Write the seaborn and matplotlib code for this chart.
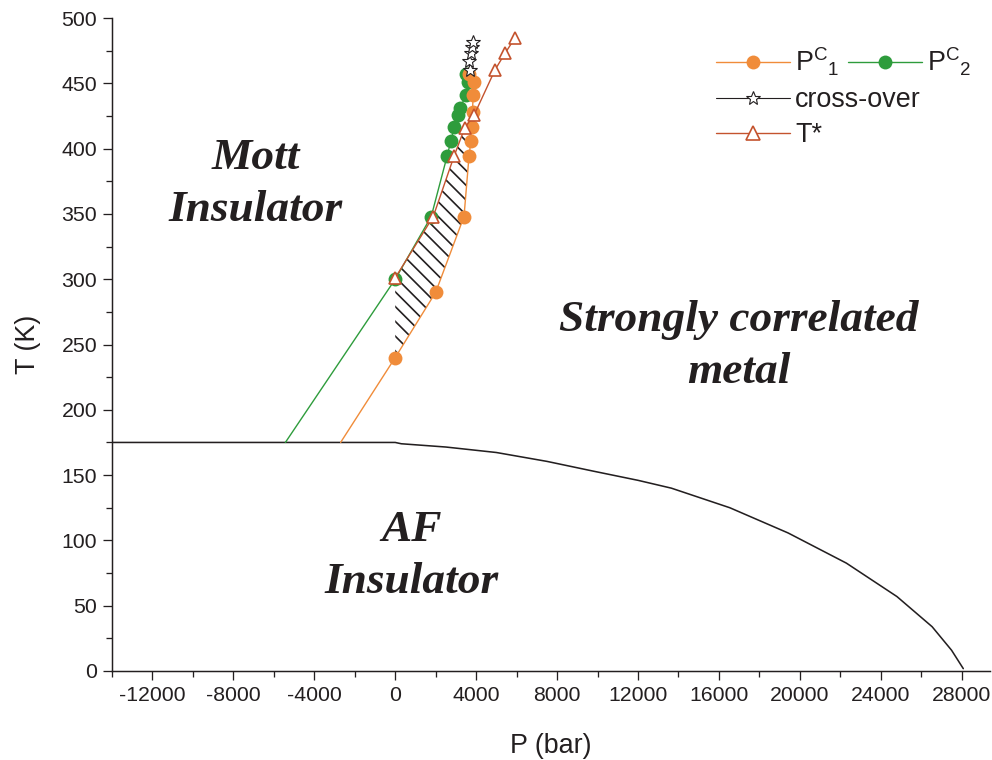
import numpy as np
import seaborn as sns
import matplotlib.pyplot as plt
from matplotlib.lines import Line2D

# ---- data (P in bar, T in K) ----
# first point of each P_c line is where it runs into the AF boundary (no marker)
pc1_p = [-2700, 0, 2000, 3400, 3650, 3740, 3790, 3820, 3850, 3900, 3650]
pc1_t = [175, 240, 290, 348, 394.6, 405.8, 416.3, 428, 441, 451, 457.5]

pc2_p = [-5430, 0, 1780, 2570, 2750, 2910, 3110, 3210, 3490, 3600, 3490]
pc2_t = [175, 300, 348, 394.6, 405.8, 416.3, 425.7, 430.9, 441, 451, 457.5]

cross_p = [3690, 3650, 3740, 3790, 3850]
cross_t = [460, 466.8, 473, 478, 482]

tstar_p = [0, 1880, 2910, 3440, 3900, 4940, 5430, 5930]
tstar_t = [301, 348, 394.3, 416, 425.7, 460.5, 473, 485]

af_p = [-14000, 0, 300, 2500, 5000, 7500, 9800, 12000, 13650, 16540, 19420,
        22300, 24800, 26540, 27500, 28080]
af_t = [175, 175, 174, 171.5, 167.3, 160.5, 153, 146, 140, 125, 105.7,
        82.6, 57, 33.9, 15.9, 1.8]

x_ticks = [-12000, -8000, -4000, 0, 4000, 8000, 12000, 16000, 20000, 24000, 28000]
y_ticks = [0, 50, 100, 150, 200, 250, 300, 350, 400, 450, 500]

ORANGE = '#f08c3a'
GREEN = '#2e9c3c'
BROWN = '#c4532e'
INK = '#231f20'

sns.set_theme(style='ticks')
plt.rcParams['font.family'] = ['Liberation Sans', 'DejaVu Sans']
plt.rcParams['hatch.linewidth'] = 0.9
plt.rcParams['mathtext.fontset'] = 'custom'
plt.rcParams['mathtext.rm'] = 'Liberation Sans'

DPI = 400 / 3
fig = plt.figure(figsize=(992 / DPI, 760 / DPI), dpi=DPI)
ax = fig.add_axes([112 / 992, 1 - 671 / 760, (990 - 112) / 992, (671 - 18) / 760])

# hatched coexistence region between T* / P=0 (left) and Pc1 (right)
t_grid = np.linspace(240, 425, 400)
left = np.where(t_grid <= 300, 0, np.interp(t_grid, tstar_t, tstar_p))
right = np.interp(t_grid, pc1_t[1:], pc1_p[1:])
ax.fill_betweenx(t_grid, left, right, where=right >= left, facecolor='none',
                 edgecolor=INK, hatch='\\\\\\', linewidth=0, zorder=1)

# AF boundary
sns.lineplot(x=af_p, y=af_t, sort=False, estimator=None, color=INK, lw=0.85, ax=ax, zorder=2)

# Pc2, Pc1, T*, cross-over
sns.lineplot(x=pc2_p, y=pc2_t, sort=False, estimator=None, color=GREEN, lw=0.75,
             marker='o', markersize=7.5, markeredgewidth=0, markevery=list(range(1, len(pc2_p))),
             ax=ax, zorder=3)
sns.lineplot(x=pc1_p, y=pc1_t, sort=False, estimator=None, color=ORANGE, lw=0.75,
             marker='o', markersize=7.5, markeredgewidth=0, markevery=list(range(1, len(pc1_p))),
             ax=ax, zorder=4)
sns.lineplot(x=tstar_p, y=tstar_t, sort=False, estimator=None, color=BROWN, lw=0.75,
             marker='^', markersize=7, markerfacecolor='white', markeredgecolor=BROWN,
             markeredgewidth=0.9, ax=ax, zorder=5)
sns.lineplot(x=cross_p, y=cross_t, sort=False, estimator=None, color=INK, lw=0.6,
             marker='*', markersize=8, markerfacecolor='white', markeredgecolor=INK,
             markeredgewidth=0.6, ax=ax, zorder=6)

# axes styling
ax.set_xlim(-14000, 29400)
ax.set_ylim(0, 500)
ax.set_xticks(x_ticks)
ax.set_yticks(y_ticks)
ax.set_xticks(np.arange(-14000, 29401, 2000), minor=True)
ax.set_yticks(np.arange(0, 501, 25), minor=True)
ax.set_xticklabels([str(v) for v in x_ticks])
ax.tick_params(which='major', direction='out', length=5, width=0.7, color=INK,
               labelsize=11.5, labelcolor=INK, pad=3)
ax.tick_params(which='minor', direction='out', length=3, width=0.7, color=INK)
for side in ['top', 'right']:
    ax.spines[side].set_visible(False)
for side in ['left', 'bottom']:
    ax.spines[side].set_color(INK)
    ax.spines[side].set_linewidth(0.8)
ax.set_xlabel('P (bar)', fontsize=14.5, color=INK, labelpad=15)
ax.set_ylabel('T (K)', fontsize=14.5, color=INK, labelpad=11)

# region labels
region_font = dict(family='Liberation Serif', weight='bold', style='italic', fontsize=24.5,
                   color=INK, ha='center', va='center', multialignment='center', linespacing=1.38)
ax.text(-6900, 373, 'Mott\nInsulator', **region_font)
ax.text(17000, 249, 'Strongly correlated\nmetal', **region_font)
ax.text(800, 88, 'AF\nInsulator', **region_font)

# legend: Pc1 / cross-over / T* in one column, Pc2 next to Pc1
h_pc1 = Line2D([], [], color=ORANGE, lw=0.75, marker='o', markersize=7.5, markeredgewidth=0)
h_pc2 = Line2D([], [], color=GREEN, lw=0.75, marker='o', markersize=7.5, markeredgewidth=0)
h_cross = Line2D([], [], color=INK, lw=0.6, marker='*', markersize=8, markerfacecolor='white',
                 markeredgecolor=INK, markeredgewidth=0.6)
h_tstar = Line2D([], [], color=BROWN, lw=0.75, marker='^', markersize=8, markerfacecolor='white',
                 markeredgecolor=BROWN, markeredgewidth=0.9)
leg_kw = dict(frameon=False, fontsize=14.5, handlelength=2.75, handletextpad=0.2,
              borderpad=0, borderaxespad=0, labelcolor=INK, loc='upper left')
leg1 = fig.legend([h_pc1, h_cross, h_tstar],
                  [r'$\mathregular{P^{C}{}_{1}}$', 'cross-over', 'T*'],
                  bbox_to_anchor=(716 / 992, 1 - 46 / 760), labelspacing=0.33, **leg_kw)
leg2 = fig.legend([h_pc2], [r'$\mathregular{P^{C}{}_{2}}$'],
                  bbox_to_anchor=(848 / 992, 1 - 46 / 760), **leg_kw)

fig.savefig('out.png', dpi=DPI)
